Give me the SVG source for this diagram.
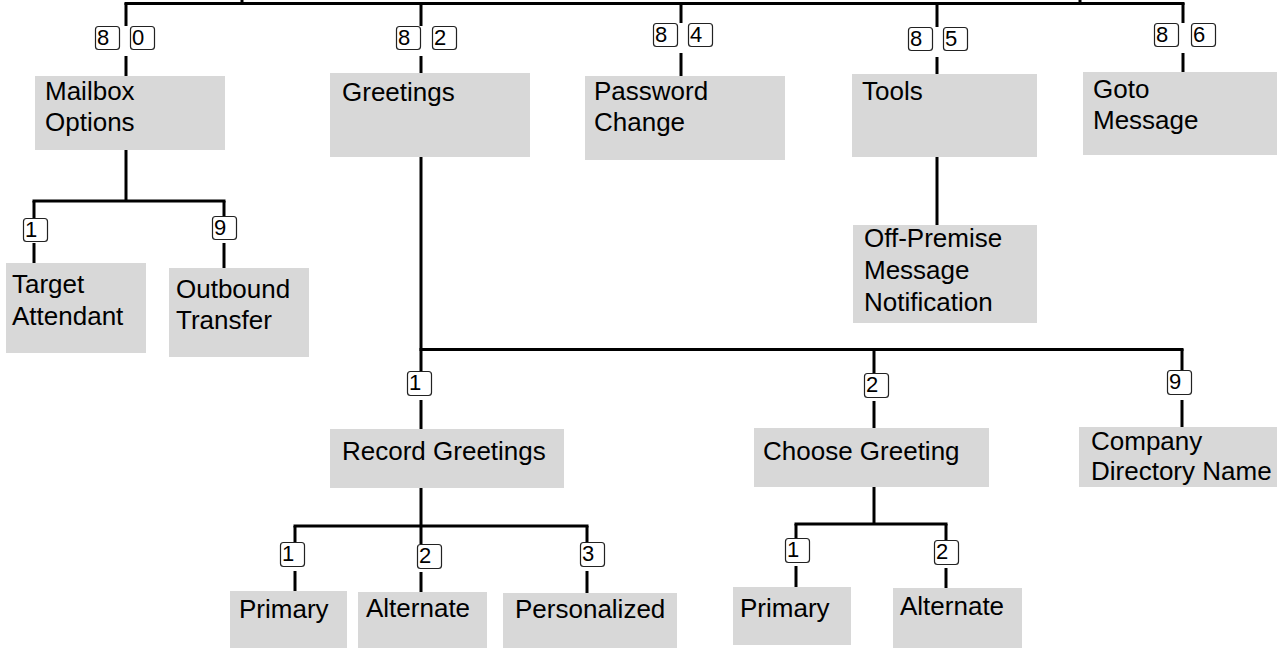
<svg xmlns="http://www.w3.org/2000/svg" width="1277" height="648" viewBox="0 0 1277 648">
<style>
.box{fill:#d8d8d8}
.t{font-family:"Liberation Sans",Arial,Helvetica,sans-serif;font-size:26px;fill:#000}
.k rect{fill:#fff;stroke:#222;stroke-width:1.2}
.k text{font-family:"Liberation Sans",Arial,Helvetica,sans-serif;font-size:22px;fill:#000}
#connectors line{stroke:#000;stroke-width:3;stroke-linecap:butt}
</style>
<rect width="1277" height="648" fill="#fff"/>
<g id="connectors">
  <line x1="124.5" y1="3.5" x2="1184.5" y2="3.5"/>
  <line x1="242" y1="0" x2="242" y2="4"/>
  <line x1="1080" y1="0" x2="1080" y2="4"/>
  <line x1="126" y1="3" x2="126" y2="26"/>
  <line x1="126" y1="56" x2="126" y2="76"/>
  <line x1="421" y1="3" x2="421" y2="26"/>
  <line x1="421" y1="56" x2="421" y2="73"/>
  <line x1="681" y1="3" x2="681" y2="23"/>
  <line x1="681" y1="53" x2="681" y2="76"/>
  <line x1="937" y1="3" x2="937" y2="27"/>
  <line x1="937" y1="57" x2="937" y2="74"/>
  <line x1="1183" y1="3" x2="1183" y2="23"/>
  <line x1="1183" y1="53" x2="1183" y2="72"/>
  <line x1="126" y1="150" x2="126" y2="201"/>
  <line x1="32.5" y1="201" x2="225.5" y2="201"/>
  <line x1="34" y1="201" x2="34" y2="218"/>
  <line x1="34" y1="243" x2="34" y2="263"/>
  <line x1="224" y1="201" x2="224" y2="216"/>
  <line x1="224" y1="243" x2="224" y2="268"/>
  <line x1="937" y1="157" x2="937" y2="225"/>
  <line x1="421" y1="156" x2="421" y2="371"/>
  <line x1="419.5" y1="349.5" x2="1183.5" y2="349.5"/>
  <line x1="421" y1="400" x2="421" y2="429"/>
  <line x1="874" y1="349" x2="874" y2="374"/>
  <line x1="874" y1="401" x2="874" y2="428"/>
  <line x1="1182" y1="349" x2="1182" y2="370"/>
  <line x1="1182" y1="400" x2="1182" y2="427"/>
  <line x1="421" y1="488" x2="421" y2="544"/>
  <line x1="293.5" y1="526" x2="588.5" y2="526"/>
  <line x1="295" y1="526" x2="295" y2="542"/>
  <line x1="295" y1="571" x2="295" y2="591"/>
  <line x1="421" y1="572" x2="421" y2="592"/>
  <line x1="587" y1="526" x2="587" y2="543"/>
  <line x1="587" y1="571" x2="587" y2="593"/>
  <line x1="874" y1="487" x2="874" y2="524"/>
  <line x1="794.5" y1="524" x2="947.5" y2="524"/>
  <line x1="796" y1="524" x2="796" y2="538"/>
  <line x1="796" y1="566" x2="796" y2="587"/>
  <line x1="946" y1="524" x2="946" y2="541"/>
  <line x1="946" y1="568" x2="946" y2="588"/>
</g>
<g id="key-labels" class="k">
  <g><rect x="95.5" y="26.5" width="24" height="23" rx="3"/><text x="97" y="45">8</text></g>
  <g><rect x="130.5" y="26.5" width="24" height="23" rx="3"/><text x="132" y="45">0</text></g>
  <g><rect x="396.5" y="26.5" width="24" height="23" rx="3"/><text x="398" y="45">8</text></g>
  <g><rect x="432.5" y="26.5" width="24" height="23" rx="3"/><text x="434" y="45">2</text></g>
  <g><rect x="653.5" y="23.5" width="24" height="23" rx="3"/><text x="655" y="42">8</text></g>
  <g><rect x="688.5" y="23.5" width="24" height="23" rx="3"/><text x="690" y="42">4</text></g>
  <g><rect x="908.5" y="27.5" width="24" height="23" rx="3"/><text x="910" y="46">8</text></g>
  <g><rect x="943.5" y="27.5" width="24" height="23" rx="3"/><text x="945" y="46">5</text></g>
  <g><rect x="1154.5" y="23.5" width="24" height="23" rx="3"/><text x="1156" y="42">8</text></g>
  <g><rect x="1191.5" y="23.5" width="24" height="23" rx="3"/><text x="1193" y="42">6</text></g>
  <g><rect x="23.5" y="218.5" width="24" height="23" rx="3"/><text x="25" y="237">1</text></g>
  <g><rect x="212.5" y="216.5" width="24" height="23" rx="3"/><text x="214" y="235">9</text></g>
  <g><rect x="407.5" y="371.5" width="24" height="24" rx="3"/><text x="409" y="390">1</text></g>
  <g><rect x="864.5" y="373.5" width="24" height="24" rx="3"/><text x="866" y="392">2</text></g>
  <g><rect x="1167.5" y="370.5" width="24" height="24" rx="3"/><text x="1169" y="389">9</text></g>
  <g><rect x="280.5" y="542.5" width="24" height="24" rx="3"/><text x="282" y="561">1</text></g>
  <g><rect x="417.5" y="544.5" width="24" height="24" rx="3"/><text x="419" y="563">2</text></g>
  <g><rect x="580.5" y="542.5" width="24" height="24" rx="3"/><text x="582" y="561">3</text></g>
  <g><rect x="785.5" y="538.5" width="24" height="24" rx="3"/><text x="787" y="557">1</text></g>
  <g><rect x="934.5" y="540.5" width="24" height="24" rx="3"/><text x="936" y="559">2</text></g>
</g>
<g id="mailbox-options"><rect class="box" x="35" y="76" width="190" height="74"/><text class="t" x="45" y="100">Mailbox<tspan x="45" dy="31">Options</tspan></text></g>
<g id="greetings"><rect class="box" x="330" y="73" width="200" height="84"/><text class="t" x="342" y="101">Greetings</text></g>
<g id="password-change"><rect class="box" x="585" y="76" width="200" height="84"/><text class="t" x="594" y="100">Password<tspan x="594" dy="31">Change</tspan></text></g>
<g id="tools"><rect class="box" x="852" y="74" width="185" height="83"/><text class="t" x="862" y="100">Tools</text></g>
<g id="goto-message"><rect class="box" x="1083" y="72" width="194" height="83"/><text class="t" x="1093" y="98">Goto<tspan x="1093" dy="31">Message</tspan></text></g>
<g id="target-attendant"><rect class="box" x="6" y="263" width="140" height="90"/><text class="t" x="12" y="293">Target<tspan x="12" dy="32">Attendant</tspan></text></g>
<g id="outbound-transfer"><rect class="box" x="169" y="268" width="140" height="89"/><text class="t" x="176" y="298">Outbound<tspan x="176" dy="31">Transfer</tspan></text></g>
<g id="off-premise"><rect class="box" x="853" y="225" width="184" height="98"/><text class="t" x="864" y="247">Off-Premise<tspan x="864" dy="32">Message</tspan><tspan x="864" dy="32">Notification</tspan></text></g>
<g id="record-greetings"><rect class="box" x="330" y="429" width="234" height="59"/><text class="t" x="342" y="460">Record Greetings</text></g>
<g id="choose-greeting"><rect class="box" x="754" y="428" width="235" height="59"/><text class="t" x="763" y="460">Choose Greeting</text></g>
<g id="company-directory-name"><rect class="box" x="1079" y="427" width="198" height="60"/><text class="t" x="1091" y="450">Company<tspan x="1091" dy="30">Directory Name</tspan></text></g>
<g id="rg-primary"><rect class="box" x="230" y="591" width="117" height="57"/><text class="t" x="239" y="618">Primary</text></g>
<g id="rg-alternate"><rect class="box" x="358" y="592" width="129" height="56"/><text class="t" x="366" y="617">Alternate</text></g>
<g id="rg-personalized"><rect class="box" x="503" y="593" width="174" height="55"/><text class="t" x="515" y="618">Personalized</text></g>
<g id="cg-primary"><rect class="box" x="733" y="587" width="118" height="58"/><text class="t" x="740" y="617">Primary</text></g>
<g id="cg-alternate"><rect class="box" x="893" y="588" width="129" height="60"/><text class="t" x="900" y="615">Alternate</text></g>
</svg>
